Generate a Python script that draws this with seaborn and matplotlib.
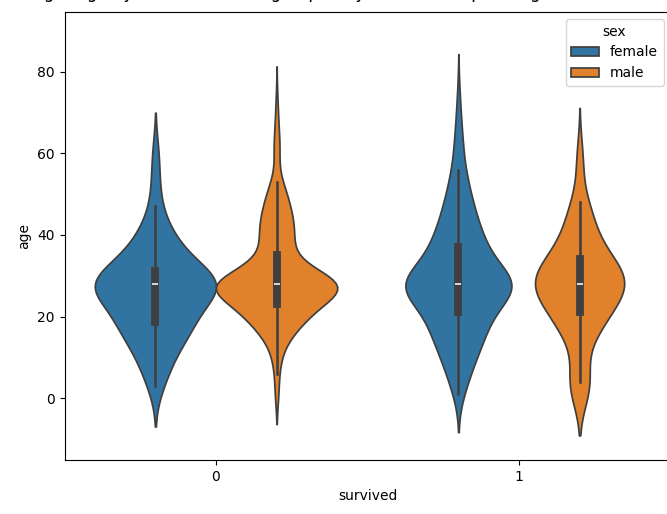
import numpy as np
import pandas as pd
import matplotlib
matplotlib.use("Agg")
import matplotlib.pyplot as plt
import seaborn as sns

# Passenger ages (value, head count) for each survival / sex group
female_died_ages = [3, 5, 7, 9, 11, 12, 13, 14, 15, 16, 17, 18,
                    19, 20, 21, 22, 23, 24, 25, 26, 27, 28,
                    29, 30, 31, 32, 33, 34, 35, 36, 37, 38, 40, 41, 43, 47, 53, 60]
female_died_counts = [1, 1, 1, 1, 1, 1, 1, 1, 1, 1, 1, 3,
                      2, 1, 1, 2, 1, 1, 1, 1, 2, 13,
                      1, 1, 1, 1, 1, 1, 2, 1, 1, 1, 1, 1, 1, 1, 1, 1]

male_died_ages = [1, 6, 9, 12, 14, 16, 17, 18, 19, 20, 21, 22, 23, 24, 25, 26, 27,
                  28, 29, 30, 31, 32, 33, 34, 35, 36, 37, 39, 41, 43, 45, 47, 49,
                  51, 53, 60, 64, 69, 74]
male_died_counts = [3, 2, 3, 4, 4, 6, 6, 7, 7, 8, 9, 10, 11, 12, 13, 13, 13,
                    60, 8, 8, 7, 6, 5, 5, 4, 4, 4, 10, 10, 9, 8, 7, 6,
                    5, 4, 4, 3, 2, 1]

female_surv_ages = [1, 4, 7, 10, 13, 16, 18, 21, 24, 26, 28, 30, 32, 35, 37, 40,
                    43, 46, 49, 52, 56, 62, 67, 71, 75]
female_surv_counts = [3, 4, 6, 8, 10, 12, 9, 16, 16, 10, 40, 10, 10, 15, 9, 11,
                      9, 7, 6, 5, 5, 4, 2, 1, 1]

male_surv_ages = [1, 4, 6, 10, 14, 16, 18, 19, 21, 23, 25, 27, 28, 30, 32, 33, 35,
                  37, 40, 43, 46, 48, 55, 58, 61]
male_surv_counts = [4, 2, 3, 1, 2, 3, 3, 3, 5, 5, 5, 5, 12, 5, 5, 5, 4,
                    4, 4, 3, 3, 2, 1, 1, 1]

survived_levels = [0, 1]
sex_levels = ["female", "male"]

groups = [
    (0, "female", female_died_ages, female_died_counts),
    (0, "male", male_died_ages, male_died_counts),
    (1, "female", female_surv_ages, female_surv_counts),
    (1, "male", male_surv_ages, male_surv_counts),
]
frames = []
for surv, sex, ages, counts in groups:
    a = np.repeat(np.asarray(ages, dtype=float), counts)
    frames.append(pd.DataFrame({"survived": surv, "sex": sex, "age": a}))
df = pd.concat(frames, ignore_index=True)

fig = plt.figure(figsize=(6.67, 5.14), dpi=100)
ax = fig.add_axes([64.5 / 667, 54 / 514, 606 / 667, 448 / 514])

sns.violinplot(data=df, x="survived", y="age", hue="sex",
               order=survived_levels, hue_order=sex_levels, ax=ax)

ax.set_ylim(-15.2, 94.7)
ax.set_xlabel("survived")
ax.set_ylabel("age")
sns.move_legend(ax, "upper right", title="sex")

# Title sits at the very top edge of the canvas
fig.text(367.5 / 667, 1 + 1.5 / 514,
         "Violin plot of passenger age by survival status, grouped by sex "
         "(Titanic passenger data shown with seaborn.violinplot)",
         ha="center", va="baseline", fontsize=12)

fig.savefig("out.png", dpi=100)
